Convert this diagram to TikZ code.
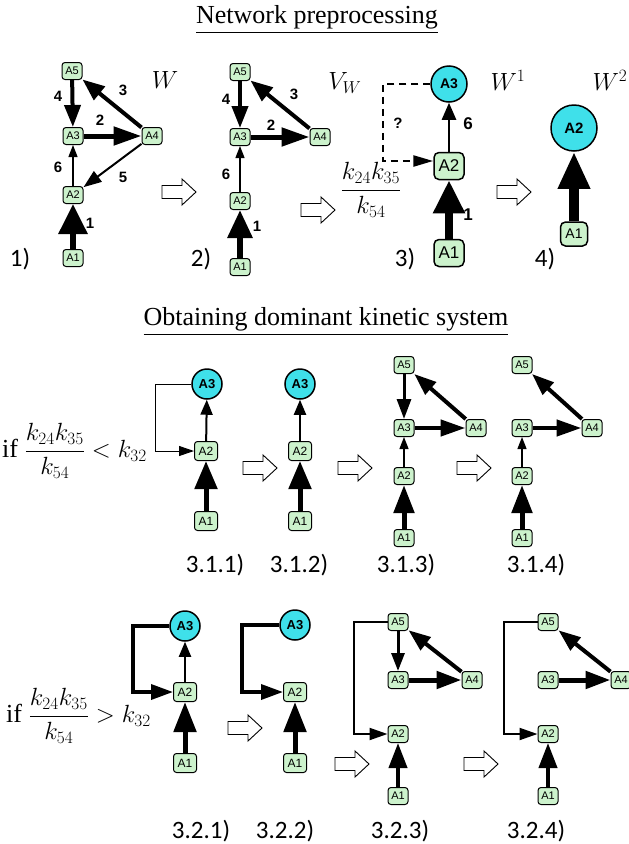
\documentclass[tikz,border=0pt]{standalone}
\usepackage{amsmath}
\usepackage{fontspec}
\setmainfont{Liberation Serif}
\newfontfamily\arialf{Liberation Sans}
\newfontfamily\calf{Carlito}
\usetikzlibrary{arrows.meta}
\definecolor{boxgreen}{HTML}{CCF2CC}
\definecolor{cyanfill}{HTML}{3FE0EA}
\tikzset{
 bx/.style={draw, line width=1pt, rounded corners=3pt, fill=boxgreen, minimum width=20pt, minimum height=17pt, inner sep=0pt, font=\arialf\fontsize{11}{11}\selectfont},
 bxm/.style={bx, minimum width=23pt, minimum height=19pt, font=\arialf\fontsize{12}{12}\selectfont},
 bxl/.style={bx, line width=1.5pt, rounded corners=5pt, minimum width=30pt, minimum height=27pt, font=\arialf\fontsize{17}{17}\selectfont},
 cy/.style={circle, draw, line width=1.5pt, fill=cyanfill, minimum size=30pt, inner sep=0pt, font=\arialf\bfseries\fontsize{13}{13}\selectfont},
 ed/.style n args={3}{line width=#1, -{Triangle[length=#2, width=#3]}},
 wt/.style={font=\arialf\bfseries\fontsize{15}{15}\selectfont},
 stlab/.style={font=\calf\fontsize{25}{25}\selectfont},
 ttl/.style={font=\fontsize{26}{30}\selectfont},
 wl/.style={font=\fontsize{26}{26}\selectfont},
 mth/.style={font=\fontsize{26}{30}\selectfont},
 hollow/.pic={\draw[line width=0.9pt, fill=white] (-17,-6.5) -- (3,-6.5) -- (3,-13) -- (17,0) -- (3,13) -- (3,6.5) -- (-17,6.5) -- cycle;}
}
\begin{document}
\begin{tikzpicture}[x=1pt,y=-1pt]
\useasboundingbox[fill=white] (0,0) rectangle (629,844);
% titles
\node[ttl] (t1) at (317,20) {\underline{Network preprocessing}};
\node[ttl] (t2) at (326,322) {\underline{Obtaining dominant kinetic system}};
% ---------- panel 1
\node[bx] (aA5) at (72,71) {A5};
\node[bx] (aA3) at (73,136) {A3};
\node[bx] (aA4) at (152,136) {A4};
\node[bx] (aA2) at (73,195) {A2};
\node[bx] (aA1) at (73,258) {A1};
\draw[ed={4pt}{22pt}{16pt}] (aA5) -- (aA3);
\draw[ed={4pt}{22pt}{17pt}] (aA4) -- (aA5);
\draw[ed={5pt}{28pt}{18pt}] (aA3) -- (aA4);
\draw[ed={2pt}{18pt}{13pt}] (aA4) -- (aA2);
\draw[ed={1.3pt}{12pt}{9pt}] (aA2) -- (aA3);
\draw[ed={6pt}{30pt}{28pt}] (aA1) -- (aA2);
\node[wt] (w14) at (58,96) {4};
\node[wt] (w13) at (123,90) {3};
\node[wt] (w12) at (100,120) {2};
\node[wt] (w16) at (58,167) {6};
\node[wt] (w15) at (123,177) {5};
\node[wt] (w11) at (90,223) {1};
\node[wl] (W0) at (165,80) {$W$};
\node[stlab] (s1) at (20,259) {1)};
\pic at (179,192) {hollow};
% ---------- panel 2
\node[bx] (bA5) at (240,72) {A5};
\node[bx] (bA3) at (240,137) {A3};
\node[bx] (bA4) at (320,137) {A4};
\node[bx] (bA2) at (240,201) {A2};
\node[bx] (bA1) at (240,267) {A1};
\draw[ed={4pt}{22pt}{16pt}] (bA5) -- (bA3);
\draw[ed={4pt}{22pt}{17pt}] (bA4) -- (bA5);
\draw[ed={5pt}{28pt}{18pt}] (bA3) -- (bA4);
\draw[ed={1.3pt}{12pt}{9pt}] (bA2) -- (bA3);
\draw[ed={6pt}{28pt}{24pt}] (bA1) -- (bA2);
\node[wt] (w24) at (226,99) {4};
\node[wt] (w23) at (294,94) {3};
\node[wt] (w22) at (271,125) {2};
\node[wt] (w26) at (226,174) {6};
\node[wt] (w21) at (257,226) {1};
\node[wl] (VW) at (345,83) {$V_W$};
\node[stlab] (s2) at (201,259) {2)};
\pic at (318,210) {hollow};
% ---------- panel 3
\node[cy, minimum size=36pt, font=\arialf\bfseries\fontsize{14}{14}\selectfont] (cA3) at (449,84) {A3};
\node[bxl] (cA2) at (449,166) {A2};
\node[bxl] (cA1) at (449,253) {A1};
\draw[ed={2.5pt}{17pt}{14pt}] (cA2) -- (cA3);
\draw[ed={8pt}{33pt}{30pt}] (cA1) -- (cA2);
\coordinate (d1) at (383,84);
\coordinate (d2) at (383,161);
\draw[line width=2.5pt, dash pattern=on 7pt off 5pt, -{Triangle[length=20pt,width=11pt]}] (cA3.west) -- (d1) -- (d2) -- (d2 -| cA2.west);
\node[wt] (w3q) at (398,123) {?};
\node[wt, font=\arialf\bfseries\fontsize{17}{17}\selectfont] (w36) at (468,124) {6};
\node[wt, font=\arialf\bfseries\fontsize{17}{17}\selectfont] (w31) at (468,215) {1};
\node[mth] (fr1) at (371,190) {$\dfrac{k_{24}k_{35}}{k_{54}}$};
\node[wl] (W1) at (508,80) {$W^1$};
\node[stlab] (s3) at (405,259) {3)};
\pic at (514,192) {hollow};
% ---------- panel 4
\node[cy, minimum size=46pt, font=\arialf\bfseries\fontsize{15}{15}\selectfont] (dA2) at (574,128) {A2};
\node[bxl, minimum width=27pt, minimum height=24pt, font=\arialf\fontsize{14}{14}\selectfont] (dA1) at (574,234) {A1};
\draw[ed={10pt}{37pt}{30pt}] (dA1) -- (dA2);
\node[wl] (W2) at (610,80) {$W^2$};
\node[stlab] (s4) at (545,259) {4)};
% ---------- middle condition
\node[mth, anchor=west, inner sep=0pt] (c1) at (2,451) {if $\dfrac{k_{24}k_{35}}{k_{54}} < k_{32}$};
% 3.1.1
\node[cy] (eA3) at (207,384) {A3};
\node[bxm] (eA2) at (206,451) {A2};
\node[bxm] (eA1) at (206,521) {A1};
\coordinate (ec) at (155,384);
\draw[ed={1pt}{15pt}{10pt}] (eA3.west) -- (ec) |- (eA2.west);
\draw[ed={2pt}{15pt}{12pt}] (eA2) -- (eA3);
\draw[ed={5pt}{28pt}{22pt}] (eA1) -- (eA2);
\pic at (260,468) {hollow};
% 3.1.2
\node[cy] (fA3) at (300,384) {A3};
\node[bxm] (fA2) at (300,451) {A2};
\node[bxm] (fA1) at (300,521) {A1};
\draw[ed={2pt}{15pt}{12pt}] (fA2) -- (fA3);
\draw[ed={5pt}{28pt}{22pt}] (fA1) -- (fA2);
\pic at (355,468) {hollow};
% 3.1.3
\node[bx] (gA5) at (404,365) {A5};
\node[bx] (gA3) at (404,428) {A3};
\node[bx] (gA4) at (476,428) {A4};
\node[bx] (gA2) at (404,476) {A2};
\node[bx] (gA1) at (404,538) {A1};
\draw[ed={3pt}{20pt}{14pt}] (gA5) -- (gA3);
\draw[ed={4pt}{22pt}{16pt}] (gA4) -- (gA5);
\draw[ed={4.5pt}{25pt}{16pt}] (gA3) -- (gA4);
\draw[ed={1.3pt}{12pt}{9pt}] (gA2) -- (gA3);
\draw[ed={5pt}{28pt}{20pt}] (gA1) -- (gA2);
\pic at (474,468) {hollow};
% 3.1.4
\node[bx] (hA5) at (522,365) {A5};
\node[bx] (hA3) at (522,428) {A3};
\node[bx] (hA4) at (592,428) {A4};
\node[bx] (hA2) at (522,476) {A2};
\node[bx] (hA1) at (522,538) {A1};
\draw[ed={4pt}{22pt}{16pt}] (hA4) -- (hA5);
\draw[ed={4.5pt}{25pt}{16pt}] (hA3) -- (hA4);
\draw[ed={1.3pt}{12pt}{9pt}] (hA2) -- (hA3);
\draw[ed={5pt}{28pt}{20pt}] (hA1) -- (hA2);
\node[stlab] (s311) at (215,565) {3.1.1)};
\node[stlab] (s312) at (299,565) {3.1.2)};
\node[stlab] (s313) at (406,565) {3.1.3)};
\node[stlab] (s314) at (536,565) {3.1.4)};
% ---------- bottom condition
\node[mth, anchor=west, inner sep=0pt] (c2) at (6,716) {if $\dfrac{k_{24}k_{35}}{k_{54}} > k_{32}$};
% 3.2.1
\node[cy] (iA3) at (185,626) {A3};
\node[bxm] (iA2) at (185,692) {A2};
\node[bxm] (iA1) at (185,763) {A1};
\coordinate (ic) at (133,626);
\draw[ed={3.5pt}{22pt}{15pt}] (iA3.west) -- (ic) |- (iA2.west);
\draw[ed={2pt}{15pt}{12pt}] (iA2) -- (iA3);
\draw[ed={5pt}{30pt}{22pt}] (iA1) -- (iA2);
\pic at (245,728) {hollow};
% 3.2.2
\node[cy] (jA3) at (295,625) {A3};
\node[bxm] (jA2) at (295,692) {A2};
\node[bxm] (jA1) at (295,763) {A1};
\coordinate (jc) at (242,625);
\draw[ed={3.5pt}{22pt}{15pt}] (jA3.west) -- (jc) |- (jA2.west);
\draw[ed={5pt}{30pt}{22pt}] (jA1) -- (jA2);
\pic at (352,764) {hollow};
% 3.2.3
\node[bx] (kA5) at (398,622) {A5};
\node[bx] (kA3) at (398,680) {A3};
\node[bx] (kA4) at (472,680) {A4};
\node[bx] (kA2) at (398,734) {A2};
\node[bx] (kA1) at (398,796) {A1};
\coordinate (kc) at (354,622);
\draw[ed={2pt}{18pt}{12pt}] (kA5.west) -- (kc) |- (kA2.west);
\draw[ed={3pt}{18pt}{13pt}] (kA5) -- (kA3);
\draw[ed={4pt}{22pt}{16pt}] (kA4) -- (kA5);
\draw[ed={5pt}{25pt}{17pt}] (kA3) -- (kA4);
\draw[ed={4pt}{25pt}{18pt}] (kA1) -- (kA2);
\pic at (481,764) {hollow};
% 3.2.4
\node[bx] (lA5) at (548,622) {A5};
\node[bx] (lA3) at (548,680) {A3};
\node[bx] (lA4) at (621,680) {A4};
\node[bx] (lA2) at (548,734) {A2};
\node[bx] (lA1) at (548,796) {A1};
\coordinate (lc) at (504,622);
\draw[ed={2pt}{18pt}{12pt}] (lA5.west) -- (lc) |- (lA2.west);
\draw[ed={4pt}{22pt}{16pt}] (lA4) -- (lA5);
\draw[ed={5pt}{25pt}{17pt}] (lA3) -- (lA4);
\draw[ed={4pt}{25pt}{18pt}] (lA1) -- (lA2);
\node[stlab] (s321) at (201,831) {3.2.1)};
\node[stlab] (s322) at (285,831) {3.2.2)};
\node[stlab] (s323) at (400,831) {3.2.3)};
\node[stlab] (s324) at (536,831) {3.2.4)};
\end{tikzpicture}
\end{document}
